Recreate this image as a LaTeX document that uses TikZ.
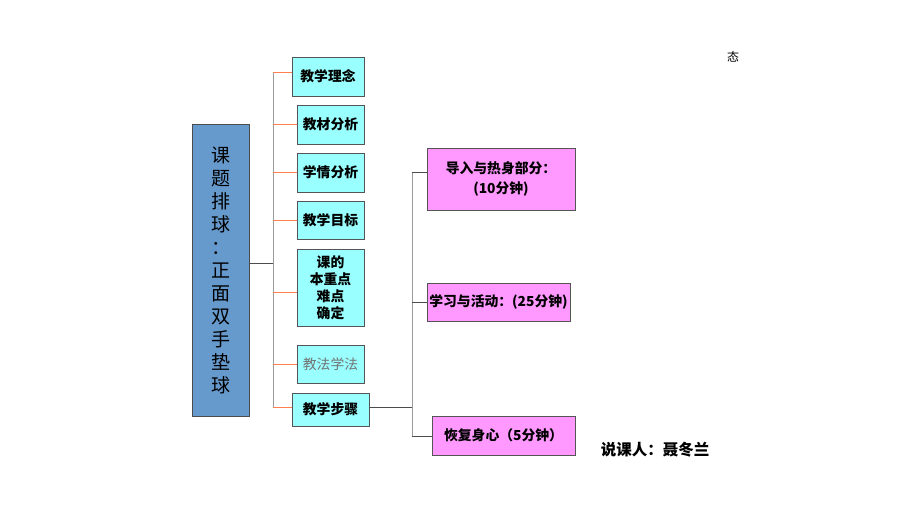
\documentclass[tikz,border=0pt]{standalone}
\usepackage{fontspec}
\setmainfont{Noto Sans CJK SC}
\newfontfamily\cjk{Noto Sans CJK SC}
\definecolor{mainblue}{HTML}{6699CC}
\definecolor{lcyan}{HTML}{99FFFF}
\definecolor{lpink}{HTML}{FF99FF}
\definecolor{branchc}{HTML}{FF7F50}
\definecolor{trunkc}{HTML}{9A9A9A}
\definecolor{edgec}{HTML}{555555}
\tikzset{
  cbox/.style={draw=edgec, line width=0.8pt, fill=lcyan, inner sep=0pt, align=center,
    font=\cjk\bfseries\fontsize{13.8}{17}\selectfont},
  pbox/.style={draw=edgec, line width=0.8pt, fill=lpink, inner sep=0pt, align=center,
    font=\cjk\bfseries\fontsize{13.8}{20}\selectfont},
  br/.style={draw=branchc, line width=0.9pt},
  tr/.style={draw=trunkc, line width=1pt},
  dk/.style={draw=black!70, line width=0.9pt}
}
\begin{document}
\begin{tikzpicture}[x={(1pt,0)}, y={(0,-1pt)}]
\useasboundingbox (0,0) rectangle (920,518);
% main box
\node[draw=black!70, line width=0.8pt, fill=mainblue, minimum width=57pt, minimum height=292pt,
  inner sep=0pt, align=center, font=\cjk\fontsize{19}{23}\selectfont] (main) at (220.5,270)
  {课\\题\\排\\球\\：\\正\\面\\双\\手\\垫\\球};
% cyan boxes
\node[cbox, minimum width=72pt, minimum height=39pt] (b1) at (328,76.5) {教学理念};
\node[cbox, minimum width=67pt, minimum height=39pt] (b2) at (330.5,124.5) {教材分析};
\node[cbox, minimum width=67pt, minimum height=39pt] (b3) at (330.5,172.5) {学情分析};
\node[cbox, minimum width=67pt, minimum height=38pt] (b4) at (330.5,220) {教学目标};
\node[cbox, minimum width=67pt, minimum height=77pt] (b5) at (330.5,287.5) {课的\\本重点\\难点\\确定};
\node[cbox, minimum width=67pt, minimum height=38pt, font=\cjk\fontsize{13.8}{17}\selectfont, text=black!55] (b6) at (330.5,364) {教法学法};
\node[cbox, minimum width=77pt, minimum height=33pt] (b7) at (330.5,409.5) {教学步骤};
% pink boxes
\node[pbox, minimum width=148pt, minimum height=62pt] (p1) at (501,179) {导入与热身部分：\\(10分钟)};
\node[pbox, minimum width=143pt, minimum height=38pt] (p2) at (498.5,302) {学习与活动：(25分钟)};
\node[pbox, minimum width=143pt, minimum height=39pt] (p3) at (503.5,435.5) {恢复身心（5分钟）};
% texts
\node[font=\cjk\bfseries\fontsize{15.5}{18}\selectfont, inner sep=0pt] (spk) at (655,450) {说课人：聂冬兰};
\node[font=\cjk\fontsize{12}{14}\selectfont, inner sep=0pt] (tai) at (733,57) {态};
% first trunk
\coordinate (c1) at (273,72);
\coordinate (c2) at (273,124);
\coordinate (c3) at (273,172);
\coordinate (c4) at (273,220);
\coordinate (c5) at (273,292);
\coordinate (c6) at (273,364);
\coordinate (c7) at (273,407);
\coordinate (cm) at (273,263);
\draw[tr] (c1) -- (c7);
\draw[dk] (main.east |- cm) -- (cm);
\draw[br] (c1) -- (c1 -| b1.west);
\draw[br] (c2) -- (c2 -| b2.west);
\draw[br] (c3) -- (c3 -| b3.west);
\draw[br] (c4) -- (c4 -| b4.west);
\draw[br] (c5) -- (c5 -| b5.west);
\draw[br] (c6) -- (c6 -| b6.west);
\draw[br] (c7) -- (c7 -| b7.west);
% second trunk
\coordinate (d1) at (412,172);
\coordinate (d2) at (412,302);
\coordinate (d3) at (412,436);
\coordinate (d0) at (412,407);
\draw[tr] (d1) -- (d3);
\draw[dk] (b7.east |- d0) -- (d0);
\draw[dk] (d1) -- (d1 -| p1.west);
\draw[dk] (d2) -- (d2 -| p2.west);
\draw[dk] (d3) -- (d3 -| p3.west);
\end{tikzpicture}
\end{document}
